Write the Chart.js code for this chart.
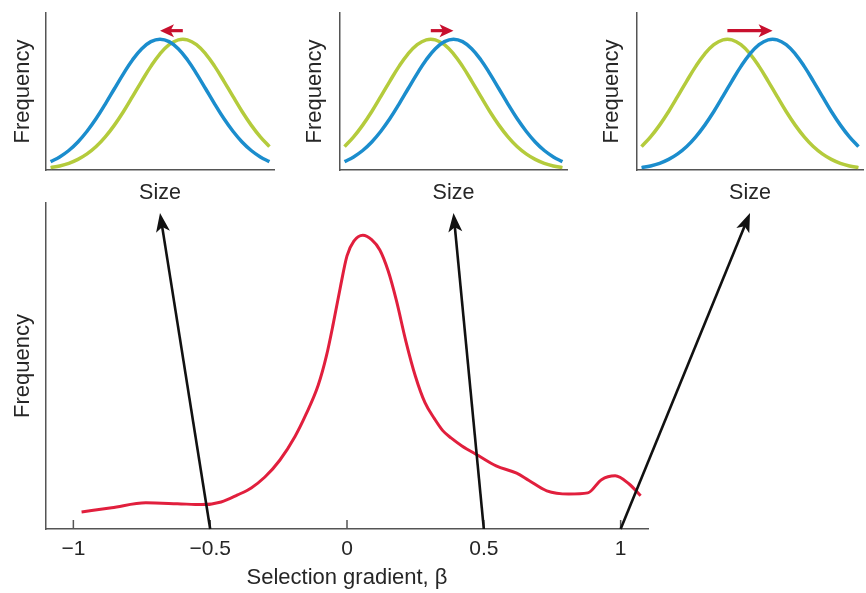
<!DOCTYPE html>
<html>
<head>
<meta charset="utf-8">
<script src="https://cdn.jsdelivr.net/npm/chart.js@4.4.1/dist/chart.umd.min.js"></script>
<style>
  body { margin: 0; background: #fff; width: 866px; height: 593px; position: relative; overflow: hidden; }
  .box { position: absolute; }
</style>
</head>
<body>
<div class="box" style="left:0;top:0"><canvas id="c1" width="290" height="210"></canvas></div>
<div class="box" style="left:290px;top:0"><canvas id="c2" width="290" height="210"></canvas></div>
<div class="box" style="left:580px;top:0"><canvas id="c3" width="286" height="210"></canvas></div>
<div class="box" style="left:0;top:195px"><canvas id="main" width="866" height="398"></canvas></div>
<script>
// Main panel: distribution of selection gradients
const betaValues = [-0.97, -0.86, -0.735, -0.62, -0.53, -0.46, -0.40, -0.35, -0.30, -0.245, -0.19, -0.15, -0.105, -0.075, -0.05, -0.025, 0.0, 0.025, 0.058, 0.09, 0.12, 0.15, 0.18, 0.215, 0.25, 0.285, 0.32, 0.35, 0.38, 0.42, 0.48, 0.545, 0.62, 0.665, 0.73, 0.81, 0.88, 0.93, 0.98, 1.03, 1.073];
const betaFreq = [0.058, 0.072, 0.089, 0.086, 0.083, 0.092, 0.116, 0.140, 0.177, 0.235, 0.315, 0.39, 0.49, 0.59, 0.70, 0.82, 0.93, 0.98, 1.0, 0.985, 0.95, 0.88, 0.78, 0.64, 0.52, 0.43, 0.375, 0.335, 0.31, 0.283, 0.25, 0.215, 0.19, 0.165, 0.13, 0.119, 0.123, 0.168, 0.181, 0.154, 0.113];
const betaTicks = [-1, -0.5, 0, 0.5, 1];
const arrowBetas = [-0.5, 0.5, 1];

// Small panels: size distributions before (green) and after (blue) selection
const sizeValues = [0.2, 0.6, 1.0, 1.4, 1.8, 2.2, 2.6, 3.0, 3.4, 3.8, 4.2, 4.6, 5.0, 5.4, 5.8, 6.2, 6.6, 7.0, 7.4, 7.8, 8.2, 8.6, 9.0, 9.4, 9.8];
const freqMean4 = [0.179, 0.253, 0.343, 0.447, 0.562, 0.680, 0.792, 0.888, 0.958, 0.995, 0.995, 0.958, 0.888, 0.792, 0.680, 0.562, 0.447, 0.343, 0.253, 0.179, 0.123, 0.081, 0.051, 0.031, 0.018];
const freqMean5 = [0.064, 0.100, 0.149, 0.214, 0.296, 0.393, 0.504, 0.621, 0.737, 0.843, 0.927, 0.981, 1.0, 0.981, 0.927, 0.843, 0.737, 0.621, 0.504, 0.393, 0.296, 0.214, 0.149, 0.100, 0.064];
const freqMean6 = [0.018, 0.031, 0.051, 0.081, 0.123, 0.179, 0.253, 0.343, 0.447, 0.562, 0.680, 0.792, 0.888, 0.958, 0.995, 0.995, 0.958, 0.888, 0.792, 0.680, 0.562, 0.447, 0.343, 0.253, 0.179];
const shiftFrom = [6, 4, 4];
const shiftTo = [5, 5, 6];

const fontFamily = '"Liberation Sans", Arial, sans-serif';
const textColor = '#262626';
const axisColor = '#555';
const blue = '#1b8dcd';
const green = '#b4cb3c';

function drawArrow(ctx, x0, y0, x1, y1, color, lw, len, half) {
  const ang = Math.atan2(y1 - y0, x1 - x0);
  const cos = Math.cos(ang), sin = Math.sin(ang);
  const bx = x1 - cos * len, by = y1 - sin * len;
  ctx.strokeStyle = color;
  ctx.fillStyle = color;
  ctx.lineWidth = lw;
  ctx.beginPath();
  ctx.moveTo(x0, y0);
  ctx.lineTo(x1 - cos * len * 0.7, y1 - sin * len * 0.7);
  ctx.stroke();
  ctx.beginPath();
  ctx.moveTo(x1, y1);
  ctx.lineTo(bx - sin * half, by + cos * half);
  ctx.lineTo(x1 - cos * len * 0.75, y1 - sin * len * 0.75);
  ctx.lineTo(bx + sin * half, by - cos * half);
  ctx.closePath();
  ctx.fill();
}

// red arrow showing the shift of the mean
const shiftPlugin = {
  id: 'shift',
  afterDatasetsDraw(chart, args, opts) {
    const { ctx, scales } = chart;
    const y = scales.y.getPixelForValue(1.065);
    ctx.save();
    drawArrow(ctx, scales.x.getPixelForValue(opts.from), y, scales.x.getPixelForValue(opts.to), y, '#c8102e', 3.2, 14, 6.5);
    ctx.restore();
  }
};

function pts(xs, ys) {
  return xs.map((x, i) => ({ x: x, y: ys[i] }));
}

function smallChart(id, before, after, i, yWidth, titleLeft, padRight) {
  return new Chart(document.getElementById(id), {
    type: 'line',
    data: {
      datasets: [
        { data: pts(sizeValues, after), borderColor: blue, borderWidth: 3.5, pointRadius: 0, tension: 0.4 },
        { data: pts(sizeValues, before), borderColor: green, borderWidth: 3.5, pointRadius: 0, tension: 0.4 }
      ]
    },
    options: {
      responsive: false,
      animation: false,
      layout: { padding: { top: 13, right: padRight, left: 0, bottom: 0 } },
      plugins: {
        legend: { display: false },
        tooltip: { enabled: false },
        shift: { from: shiftFrom[i], to: shiftTo[i] }
      },
      scales: {
        x: {
          type: 'linear', min: 0, max: 10,
          ticks: { display: false },
          grid: { drawOnChartArea: false, drawTicks: false },
          border: { color: axisColor, width: 1.5 },
          title: { display: true, text: 'Size', color: textColor, font: { family: fontFamily, size: 21.5 }, padding: { top: 0, bottom: 4 } },
          afterFit: s => { s.height = 40; }
        },
        y: {
          min: 0, max: 1.2,
          ticks: { display: false },
          grid: { drawOnChartArea: false, drawTicks: false },
          border: { color: axisColor, width: 1.5 },
          title: { display: true, text: 'Frequency', color: textColor, font: { family: fontFamily, size: 22 }, padding: { top: titleLeft, bottom: 0 } },
          afterFit: s => { s.width = yWidth; }
        }
      }
    },
    plugins: [shiftPlugin]
  });
}

const smallCharts = [
  smallChart('c1', freqMean6, freqMean5, 0, 46, 9.8, 16),
  smallChart('c2', freqMean4, freqMean5, 1, 50, 11.8, 13),
  smallChart('c3', freqMean4, freqMean6, 2, 57, 18.8, 3)
];

// inward ticks + black arrows linking the main panel to the small panels
const linkPlugin = {
  id: 'links',
  afterDraw(chart) {
    const { ctx, chartArea, scales } = chart;
    const mainBox = chart.canvas.parentNode;
    ctx.save();
    ctx.strokeStyle = axisColor;
    ctx.lineWidth = 1.5;
    betaTicks.forEach(v => {
      const x = scales.x.getPixelForValue(v);
      ctx.beginPath();
      ctx.moveTo(x, chartArea.bottom);
      ctx.lineTo(x, chartArea.bottom - 9);
      ctx.stroke();
    });
    arrowBetas.forEach((b, i) => {
      const small = smallCharts[i];
      const box = small.canvas.parentNode;
      const tipX = box.offsetLeft + (small.chartArea.left + small.chartArea.right) / 2 - mainBox.offsetLeft;
      const tipY = box.offsetTop + small.height + 3 - mainBox.offsetTop;
      drawArrow(ctx, scales.x.getPixelForValue(b), chartArea.bottom, tipX, tipY, '#111', 2.6, 19, 7);
    });
    ctx.restore();
  }
};

new Chart(document.getElementById('main'), {
  type: 'line',
  data: {
    datasets: [{
      data: pts(betaValues, betaFreq),
      borderColor: '#e11f3d',
      borderWidth: 3,
      pointRadius: 0,
      cubicInterpolationMode: 'monotone'
    }]
  },
  options: {
    responsive: false,
    animation: false,
    layout: { padding: { top: 8, right: 218, left: 0, bottom: 0 } },
    plugins: { legend: { display: false }, tooltip: { enabled: false } },
    scales: {
      x: {
        type: 'linear', min: -1.1, max: 1.1,
        afterBuildTicks: s => { s.ticks = betaTicks.map(v => ({ value: v })); },
        ticks: {
          color: textColor, padding: 8, autoSkip: false, maxRotation: 0,
          font: { family: fontFamily, size: 21 },
          callback: v => (v < 0 ? '\u2212' + Math.abs(v) : String(v))
        },
        grid: { drawOnChartArea: false, drawTicks: false },
        border: { color: axisColor, width: 1.5 },
        title: { display: true, text: 'Selection gradient, \u03b2', color: textColor, font: { family: fontFamily, size: 22 }, padding: { top: 0, bottom: 2 } },
        afterFit: s => { s.height = 64; }
      },
      y: {
        min: 0, max: 1.11,
        ticks: { display: false },
        grid: { drawOnChartArea: false, drawTicks: false },
        border: { color: axisColor, width: 1.5 },
        title: { display: true, text: 'Frequency', color: textColor, font: { family: fontFamily, size: 22 }, padding: { top: 9.8, bottom: 0 } },
        afterFit: s => { s.width = 46; }
      }
    }
  },
  plugins: [linkPlugin]
});
</script>
</body>
</html>
